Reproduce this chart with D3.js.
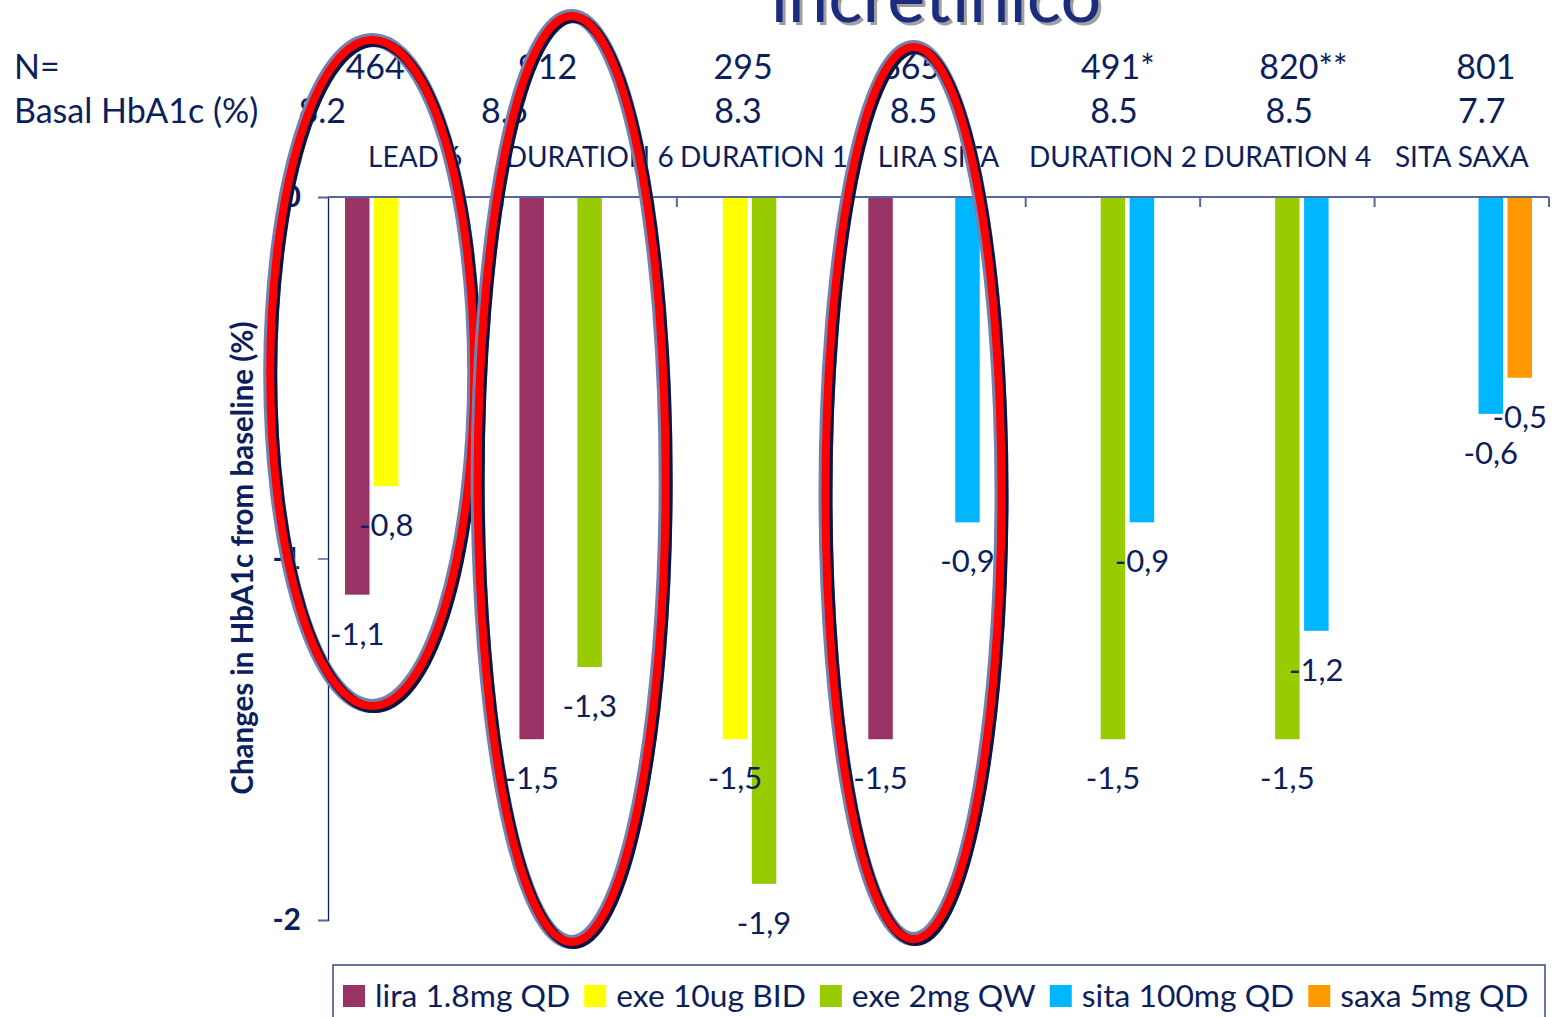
<!DOCTYPE html>
<html>
<head>
<meta charset="utf-8">
<script src="https://cdn.jsdelivr.net/npm/d3@7/dist/d3.min.js"></script>
<style>
  body { margin: 0; background: #ffffff; }
  svg text { font-family: Lato, "Open Sans", sans-serif; }
</style>
</head>
<body>
<svg id="chart" width="1555" height="1017"></svg>
<script>
// ---- data ----
const categories = ["LEAD 6", "DURATION 6", "DURATION 1", "LIRA SITA", "DURATION 2", "DURATION 4", "SITA SAXA"];
const patientCounts = ["464", "912", "295", "665", "491*", "820**", "801"];
const baselineHbA1c = ["8.2", "8.5", "8.3", "8.5", "8.5", "8.5", "7.7"];
const seriesNames = ["lira 1.8mg QD", "exe 10ug BID", "exe 2mg QW", "sita 100mg QD", "saxa 5mg QD"];
const liraValues = [-1.1, -1.5, null, -1.5, null, null, null];
const exeBidValues = [-0.8, null, -1.5, null, null, null, null];
const exeQwValues = [null, -1.3, -1.9, null, -1.5, -1.5, null];
const sitaValues = [null, null, null, -0.9, -0.9, -1.2, -0.6];
const saxaValues = [null, null, null, null, null, null, -0.5];
const yTickValues = [0, -1, -2];
const highlighted = ["LEAD 6", "DURATION 6", "LIRA SITA"];

const seriesValues = [liraValues, exeBidValues, exeQwValues, sitaValues, saxaValues];
const seriesColors = ["#993366", "#FFFF00", "#99CC00", "#00B7FF", "#FF9900"];

// ---- layout ----
const ink = "#0D1E5C";
const axisGrey = "#56679A";
const plot = { left: 328, right: 1549, top: 197, bottom: 920 };
// hand-placed header text boxes, offset from each category centre
const countNudge = [-40, -42, -21, -28, 5, 16, 24];
const basalNudge = [-93, -85, -26, -25, 1, 2, 20];

const svg = d3.select("#chart");
const locale = d3.formatLocale({ decimal: ",", thousands: ".", grouping: [3], currency: ["", ""], minus: "-" });
const fmtValue = locale.format(".1f");
const fmtTick = locale.format("d");

const x0 = d3.scaleBand().domain(categories).range([plot.left, plot.right]).padding(0);
const x1 = d3.scaleBand().domain(seriesNames).range([17, x0.bandwidth() - 17]).paddingInner(0.155);
const y = d3.scaleLinear().domain([0, -2]).range([plot.top, plot.bottom]);
const centre = c => x0(c) + x0.bandwidth() / 2;

// ---- title (upper part lies above the page) ----
const title = svg.append("g");
title.append("text").attr("x", 939).attr("y", 25).attr("text-anchor", "middle")
  .attr("font-size", 72).attr("fill", "#a0a0a0").text("incretínico");
title.append("text").attr("x", 936).attr("y", 22).attr("text-anchor", "middle")
  .attr("font-size", 72).attr("fill", "#1B2C7E").text("incretínico");

// ---- header rows ----
svg.append("text").attr("x", 14).attr("y", 79).attr("font-size", 34).attr("fill", ink).text("N=");
svg.append("text").attr("x", 14).attr("y", 123).attr("font-size", 34).attr("fill", ink).text("Basal HbA1c (%)");

svg.append("g").selectAll("text").data(categories).join("text")
  .attr("x", (c, i) => centre(c) + countNudge[i]).attr("y", 79)
  .attr("text-anchor", "middle").attr("font-size", 34).attr("fill", ink)
  .text((c, i) => patientCounts[i]);

svg.append("g").selectAll("text").data(categories).join("text")
  .attr("x", (c, i) => centre(c) + basalNudge[i]).attr("y", 123)
  .attr("text-anchor", "middle").attr("font-size", 34).attr("fill", ink)
  .text((c, i) => baselineHbA1c[i]);

// category labels above the zero line
svg.append("g").selectAll("text").data(categories).join("text")
  .attr("x", c => centre(c)).attr("y", 167)
  .attr("text-anchor", "middle").attr("font-size", 28).attr("fill", ink)
  .text(c => c);

// ---- axes ----
const yAxis = svg.append("g").attr("transform", `translate(${plot.left},0)`)
  .call(d3.axisLeft(y).tickValues(yTickValues).tickSize(10).tickPadding(17).tickFormat(fmtTick));
yAxis.select(".domain").attr("stroke", ink).attr("stroke-width", 1.3);
yAxis.selectAll(".tick line").attr("stroke", axisGrey).attr("stroke-width", 1.5);
yAxis.selectAll(".tick text").attr("font-size", 30).attr("font-weight", 700).attr("fill", ink)
  .attr("font-family", "Lato, sans-serif");

// zero line with category boundary ticks
svg.append("line").attr("x1", plot.left).attr("x2", plot.right)
  .attr("y1", y(0)).attr("y2", y(0)).attr("stroke", axisGrey).attr("stroke-width", 2);
svg.append("g").selectAll("line").data(categories).join("line")
  .attr("x1", c => x0(c) + x0.bandwidth()).attr("x2", c => x0(c) + x0.bandwidth())
  .attr("y1", y(0)).attr("y2", y(0) + 10).attr("stroke", axisGrey).attr("stroke-width", 2);

svg.append("text")
  .attr("transform", "translate(253,558) rotate(-90)")
  .attr("text-anchor", "middle").attr("font-size", 29.5).attr("font-weight", 700).attr("fill", ink)
  .text("Changes in HbA1c from baseline (%)");

// ---- bars ----
const points = [];
seriesNames.forEach((s, si) => {
  seriesValues[si].forEach((v, ci) => {
    if (v !== null) points.push({ series: s, color: seriesColors[si], cat: categories[ci], value: v });
  });
});

svg.append("g").selectAll("rect").data(points).join("rect")
  .attr("x", d => x0(d.cat) + x1(d.series))
  .attr("y", y(0) + 1)
  .attr("width", x1.bandwidth())
  .attr("height", d => y(d.value) - y(0) - 1)
  .attr("fill", d => d.color);

svg.append("g").selectAll("text").data(points).join("text")
  .attr("x", d => x0(d.cat) + x1(d.series) + x1.bandwidth() / 2)
  .attr("y", d => y(d.value) + 39)
  .attr("dy", "0.35em")
  .attr("text-anchor", "middle").attr("font-size", 31).attr("fill", ink)
  .text(d => fmtValue(d.value));

// ---- highlight rings around selected trials ----
const rings = [
  { cat: "LEAD 6", dx: -43, cy: 373, rx: 102, ry: 333 },
  { cat: "DURATION 6", dx: -18, cy: 479, rx: 94, ry: 463 },
  { cat: "LIRA SITA", dx: -25, cy: 493, rx: 88, ry: 446 }
].filter(r => highlighted.includes(r.cat));

const ringG = svg.append("g").selectAll("g").data(rings).join("g")
  .attr("transform", r => `translate(${centre(r.cat) + r.dx},${r.cy})`);
ringG.append("ellipse").attr("rx", r => r.rx).attr("ry", r => r.ry)
  .attr("fill", "none").attr("stroke", "#7381AE").attr("stroke-width", 14);
ringG.append("ellipse").attr("cx", 2).attr("cy", 2).attr("rx", r => r.rx).attr("ry", r => r.ry)
  .attr("fill", "none").attr("stroke", "#0A1445").attr("stroke-width", 10);
ringG.append("ellipse").attr("rx", r => r.rx).attr("ry", r => r.ry)
  .attr("fill", "none").attr("stroke", "#FF0000").attr("stroke-width", 8);

// ---- legend ----
const legend = svg.append("g");
legend.append("rect").attr("x", 333).attr("y", 965).attr("width", 1212).attr("height", 70)
  .attr("fill", "#ffffff").attr("stroke", "#3B4A80").attr("stroke-width", 1.5);
let lx = 343;
seriesNames.forEach((s, i) => {
  legend.append("rect").attr("x", lx).attr("y", 985).attr("width", 22).attr("height", 22)
    .attr("fill", seriesColors[i]);
  const t = legend.append("text").attr("x", lx + 32).attr("y", 996).attr("dy", "0.35em")
    .attr("font-size", 31.8).attr("fill", ink).text(s);
  lx += 32 + t.node().getComputedTextLength() + 14;
});
</script>
</body>
</html>
